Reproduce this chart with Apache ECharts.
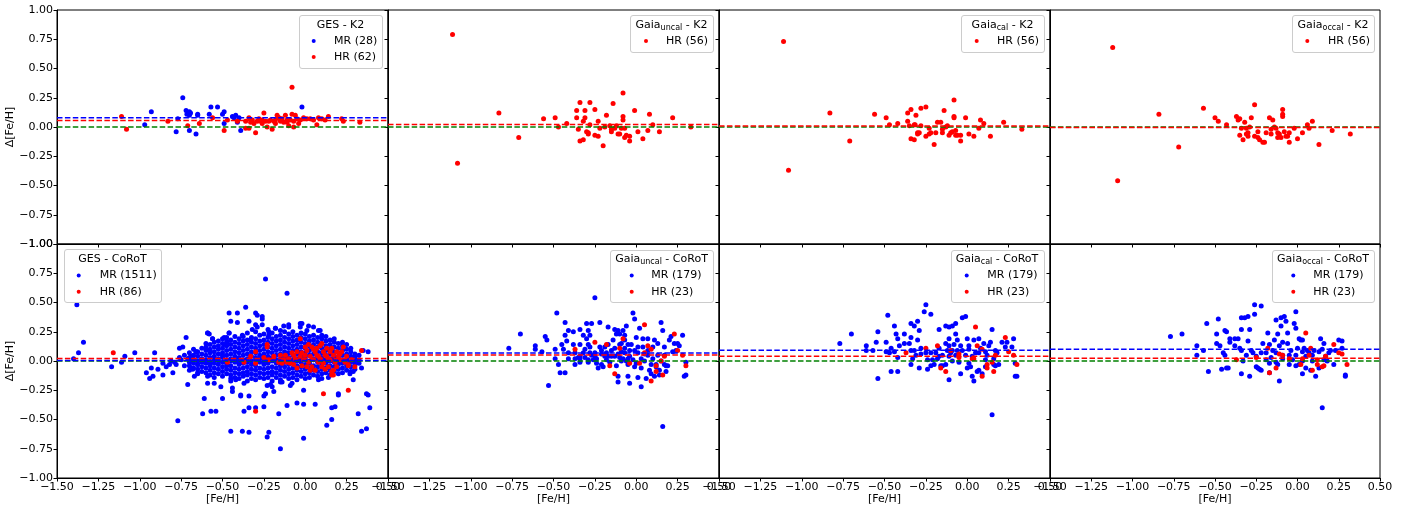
<!DOCTYPE html>
<html><head><meta charset="utf-8">
<script src="https://cdn.jsdelivr.net/npm/echarts@6/dist/echarts.min.js"></script>
<style>html,body{margin:0;padding:0;background:#fff}#c{width:1418px;height:506px}</style>
</head><body><div id="c"></div>
<script>
// ---------------- DATA ----------------
const xTicks = [-1.5, -1.25, -1.0, -0.75, -0.5, -0.25, 0.0, 0.25, 0.5];
const yTicks = [-1.0, -0.75, -0.5, -0.25, 0.0, 0.25, 0.5, 0.75, 1.0];

const panelTitles = [
  {main:'GES', sub:'', tail:' - K2'},
  {main:'Gaia', sub:'uncal', tail:' - K2'},
  {main:'Gaia', sub:'cal', tail:' - K2'},
  {main:'Gaia', sub:'occal', tail:' - K2'},
  {main:'GES', sub:'', tail:' - CoRoT'},
  {main:'Gaia', sub:'uncal', tail:' - CoRoT'},
  {main:'Gaia', sub:'cal', tail:' - CoRoT'},
  {main:'Gaia', sub:'occal', tail:' - CoRoT'}
];
const mrLabels = ['MR (28)', null, null, null, 'MR (1511)', 'MR (179)', 'MR (179)', 'MR (179)'];
const hrLabels = ['HR (62)', 'HR (56)', 'HR (56)', 'HR (56)', 'HR (86)', 'HR (23)', 'HR (23)', 'HR (23)'];

// mean offset lines (dashed)
const meanMR = [0.08, null, null, null, 0.005, 0.068, 0.091, 0.10];
const meanHR = [0.055, 0.022, 0.008, -0.005, 0.022, 0.051, 0.04, 0.023];
const zeroLine = [0, 0, 0, 0, 0, 0, 0, 0];

// ---- GES - K2 ----
const gesK2MR = [[-0.97,0.02],[-0.93,0.13],[-0.78,-0.04],[-0.77,0.07],[-0.74,0.25],[-0.72,0.14],[-0.715,0.11],[-0.70,0.13],[-0.693,0.12],[-0.70,0.10],[-0.70,-0.03],[-0.66,-0.06],[-0.65,0.11],[-0.65,0.10],[-0.58,0.11],[-0.57,0.17],[-0.53,0.17],[-0.50,0.11],[-0.49,0.13],[-0.49,0.03],[-0.43,0.08],[-0.42,0.10],[-0.41,0.04],[-0.40,0.08],[-0.39,-0.03],[-0.16,0.08],[-0.02,0.17],[-0.44,0.09]];
const gesK2HR = [[-1.11,0.09],[-1.08,-0.02],[-0.83,0.05],[-0.71,0.01],[-0.64,0.03],[-0.56,0.08],[-0.49,-0.03],[-0.47,0.06],[-0.41,0.05],[-0.36,0.05],[-0.36,-0.01],[-0.34,-0.01],[-0.34,0.08],[-0.32,0.06],[-0.31,0.03],[-0.30,-0.05],[-0.29,0.05],[-0.28,0.07],[-0.27,0.05],[-0.26,0.06],[-0.25,0.12],[-0.24,0.05],[-0.23,0.00],[-0.22,0.05],[-0.20,-0.02],[-0.19,0.05],[-0.18,0.03],[-0.17,0.10],[-0.16,0.08],[-0.15,0.05],[-0.14,0.07],[-0.13,0.04],[-0.12,0.10],[-0.11,0.06],[-0.10,0.01],[-0.09,0.06],[-0.08,0.34],[-0.08,0.11],[-0.07,0.00],[-0.07,0.05],[-0.06,0.10],[-0.05,0.07],[-0.04,0.03],[-0.01,0.08],[0.01,0.07],[0.05,0.06],[0.07,0.02],[0.08,0.08],[0.10,0.07],[0.14,0.09],[0.22,0.07],[0.23,0.05],[0.33,0.04],[-0.33,0.04],[-0.26,0.03],[-0.21,0.06],[-0.15,0.07],[-0.11,0.04],[-0.03,0.06],[0.03,0.07],[0.12,0.06],[-0.18,0.06]];

// ---- Gaia uncal / cal / occal - K2 ----
const uncalK2HR = [[-1.11,0.79],[-1.08,-0.31],[-0.83,0.12],[-0.71,-0.09],[-0.56,0.07],[-0.49,0.08],[-0.47,0.00],[-0.42,0.03],[-0.36,0.14],[-0.36,0.08],[-0.34,0.21],[-0.34,-0.12],[-0.35,-0.02],[-0.32,0.05],[-0.32,-0.11],[-0.31,0.14],[-0.31,0.08],[-0.30,-0.04],[-0.29,-0.05],[-0.29,-0.06],[-0.28,0.21],[-0.28,0.02],[-0.25,0.15],[-0.25,-0.07],[-0.23,0.05],[-0.23,-0.08],[-0.22,-0.01],[-0.20,-0.16],[-0.19,0.00],[-0.18,0.10],[-0.16,0.01],[-0.15,-0.02],[-0.15,-0.04],[-0.14,0.20],[-0.13,-0.01],[-0.12,0.01],[-0.11,-0.06],[-0.10,-0.06],[-0.09,-0.01],[-0.08,0.29],[-0.08,0.09],[-0.08,0.06],[-0.07,-0.01],[-0.07,-0.09],[-0.06,-0.07],[-0.04,-0.08],[-0.04,-0.12],[-0.01,0.14],[0.01,-0.04],[0.04,-0.10],[0.07,-0.03],[0.08,0.11],[0.10,0.02],[0.14,-0.04],[0.22,0.08],[0.33,0.00]];
const calK2HR = [[-1.11,0.73],[-1.08,-0.37],[-0.83,0.12],[-0.71,-0.12],[-0.56,0.11],[-0.49,0.08],[-0.47,0.02],[-0.42,0.03],[-0.36,0.12],[-0.36,0.05],[-0.34,0.15],[-0.34,-0.10],[-0.35,0.01],[-0.32,0.02],[-0.32,-0.11],[-0.31,0.10],[-0.315,0.02],[-0.30,-0.05],[-0.29,-0.05],[-0.30,-0.06],[-0.28,0.16],[-0.28,0.01],[-0.25,0.17],[-0.25,-0.08],[-0.23,-0.01],[-0.23,-0.06],[-0.22,-0.05],[-0.20,-0.15],[-0.19,-0.05],[-0.18,0.04],[-0.16,0.04],[-0.15,-0.02],[-0.15,-0.05],[-0.14,0.14],[-0.13,0.00],[-0.12,0.01],[-0.11,-0.07],[-0.10,-0.05],[-0.09,-0.04],[-0.08,0.23],[-0.08,0.09],[-0.08,0.08],[-0.07,-0.07],[-0.07,-0.03],[-0.06,-0.07],[-0.04,-0.07],[-0.04,-0.12],[-0.01,0.08],[0.01,-0.06],[0.04,-0.08],[0.07,-0.01],[0.08,0.06],[0.10,0.03],[0.14,-0.08],[0.22,0.04],[0.33,-0.02]];
const occalK2HR = [[-1.12,0.68],[-1.09,-0.46],[-0.84,0.11],[-0.72,-0.17],[-0.57,0.16],[-0.50,0.08],[-0.48,0.05],[-0.43,0.02],[-0.37,0.09],[-0.36,0.06],[-0.35,0.07],[-0.35,-0.07],[-0.34,-0.01],[-0.33,-0.11],[-0.32,0.04],[-0.31,-0.06],[-0.31,-0.01],[-0.30,-0.05],[-0.30,-0.08],[-0.29,0.00],[-0.28,0.08],[-0.26,0.19],[-0.26,-0.08],[-0.24,-0.04],[-0.24,-0.09],[-0.23,-0.11],[-0.21,-0.13],[-0.20,-0.13],[-0.19,-0.05],[-0.17,0.08],[-0.16,-0.02],[-0.16,-0.06],[-0.15,0.06],[-0.14,0.00],[-0.13,-0.01],[-0.12,-0.09],[-0.11,-0.06],[-0.10,-0.09],[-0.09,0.15],[-0.09,0.11],[-0.09,0.09],[-0.08,-0.04],[-0.07,-0.08],[-0.06,-0.08],[-0.05,-0.05],[-0.05,-0.13],[-0.02,-0.01],[0.00,-0.10],[0.03,-0.05],[0.06,0.02],[0.07,-0.01],[0.09,0.05],[0.13,-0.15],[0.21,-0.03],[0.32,-0.06],[-0.12,-0.05]];

// ---- GES - CoRoT ----
const gesCorotMRsparse = [[-1.38,0.48],[-1.37,0.07],[-1.34,0.16],[-1.40,0.02],[-1.17,-0.05],[-1.11,-0.01],[-1.09,0.04],[-1.03,0.07],[-0.96,-0.10],[-0.94,-0.15],[-0.93,-0.06],[-0.92,-0.13],[-0.91,0.07],[-0.89,-0.07],[-0.86,-0.12],[-0.84,-0.05],[-0.82,-0.03],[-0.80,-0.10],[-0.79,-0.01],[-0.77,-0.51],[-0.76,0.11],[-0.74,0.12],[-0.72,0.20],[-0.71,-0.20],[-0.70,-0.01],[-0.68,-0.07],[-0.66,0.08],[-0.65,-0.10],[-0.62,-0.45],[-0.61,-0.32],[-0.59,-0.13],[-0.59,0.24],[-0.58,0.23],[-0.57,-0.43],[-0.56,0.19],[-0.55,-0.19],[-0.54,-0.43],[-0.51,-0.22],[-0.50,-0.32],[-0.49,0.20],[-0.47,0.15],[-0.46,0.24],[-0.46,0.41],[-0.45,-0.60],[-0.45,0.34],[-0.44,-0.26],[-0.42,-0.16],[-0.41,0.41],[-0.41,0.33],[-0.39,-0.29],[-0.38,-0.60],[-0.37,-0.43],[-0.36,0.46],[-0.34,-0.30],[-0.34,-0.40],[-0.34,-0.61],[-0.34,0.34],[-0.32,0.27],[-0.30,0.41],[-0.30,-0.40],[-0.29,0.29],[-0.26,0.38],[-0.25,-0.39],[-0.25,-0.30],[-0.24,0.70],[-0.24,-0.28],[-0.23,-0.65],[-0.22,-0.61],[-0.21,-0.20],[-0.19,-0.26],[-0.18,0.28],[-0.16,-0.45],[-0.15,-0.75],[-0.14,-0.18],[-0.11,-0.38],[-0.11,0.58],[-0.09,-0.21],[-0.05,-0.36],[-0.02,0.32],[-0.01,-0.66],[-0.01,-0.37],[0.02,0.30],[0.06,-0.37],[0.09,0.26],[0.13,-0.55],[0.16,-0.40],[0.16,-0.50],[0.18,-0.39],[0.20,-0.28],[0.27,-0.11],[0.32,-0.45],[0.34,-0.60],[0.37,-0.58],[0.38,-0.29],[0.38,0.08],[0.39,-0.40],
  [-0.86,-0.02],[-0.81,0.00],[-0.78,-0.03],[-0.75,0.01],[-0.73,-0.04],[-0.71,0.02],[-0.68,0.00],[-0.65,-0.03],[-0.63,0.01],[-0.76,0.03],[-0.73,0.05],[-0.69,0.04],
  [-0.29,0.39],[-0.30,0.31],[-0.26,0.36],[-0.26,0.31],[-0.22,0.25],[-0.22,0.22],[-0.18,0.28],[-0.15,0.26],[-0.13,0.30],[-0.10,0.31],[-0.10,0.29],[-0.03,0.32],[-0.03,0.29],[0.01,0.26],[0.05,0.29],[0.08,0.26],[0.10,0.22],[-0.59,0.24],[-0.60,0.15],[-0.56,0.19],[-0.50,0.19],[-0.46,0.24],[-0.38,0.22],[-0.33,0.18],[-0.49,0.14],[-0.66,0.08],[-0.68,0.04],[-0.69,-0.06],[-0.67,-0.13],[-0.59,-0.19],[-0.45,-0.17],[-0.44,-0.23],[-0.39,-0.30],[-0.37,-0.19],[-0.23,-0.21],[-0.20,-0.22],[-0.15,-0.18],[-0.08,-0.19],[-0.01,-0.25],[0.08,-0.16],[0.14,-0.14],[0.20,-0.29],[0.29,-0.09],[0.29,-0.16],[0.34,-0.06],[0.37,-0.28],[0.35,0.09],[-0.61,-0.01]];
const gesCorotMRcols = [
  [-0.700,[0.03,-0.04,0.07,-0.08,0.00]],
  [-0.675,[0.01,-0.06,0.05,-0.02,0.10]],
  [-0.650,[0.04,-0.03,0.08,-0.07,0.00,-0.11]],
  [-0.625,[0.02,-0.05,0.06,-0.09,0.11,-0.01]],
  [-0.600,[0.05,-0.02,0.09,-0.06,0.01,-0.10,0.12]],
  [-0.575,[0.07,-0.04,0.03,-0.08,0.10,-0.01,0.14,-0.12]],
  [-0.550,[0.04,-0.02,0.08,-0.06,0.12,0.01,-0.10,0.16,-0.14]],
  [-0.525,[0.06,-0.03,0.10,0.02,-0.07,0.13,-0.11,0.17,0.00]],
  [-0.500,[0.03,-0.05,0.07,-0.01,0.11,-0.09,0.15,-0.13,0.05]],
  [-0.475,[0.05,-0.02,0.09,0.01,-0.07,0.13,-0.11,0.17,-0.04,0.20]],
  [-0.450,[0.02,-0.04,0.06,-0.08,0.10,0.14,-0.12,0.18,0.00,-0.15]],
  [-0.425,[0.04,-0.01,0.08,-0.06,0.12,-0.10,0.16,0.01,-0.14,0.21]],
  [-0.400,[0.03,-0.03,0.07,-0.07,0.11,-0.11,0.15,0.19,0.00,-0.15]],
  [-0.375,[0.05,-0.02,0.09,-0.06,0.13,-0.10,0.17,0.01,-0.13,0.21]],
  [-0.350,[0.02,-0.05,0.06,-0.09,0.10,0.14,-0.12,0.18,-0.01,0.24,-0.17]],
  [-0.325,[0.04,-0.03,0.08,-0.07,0.12,-0.11,0.16,0.00,0.20,-0.15]],
  [-0.300,[0.03,-0.04,0.07,-0.08,0.11,-0.12,0.15,0.01,0.19,-0.16,0.25]],
  [-0.275,[0.05,-0.01,0.09,-0.06,0.13,-0.10,0.17,0.02,0.22,-0.14]],
  [-0.250,[0.02,-0.03,0.06,-0.07,0.10,-0.11,0.14,0.18,0.00,-0.15,0.23]],
  [-0.225,[0.04,-0.02,0.08,-0.06,0.12,-0.10,0.16,0.01,0.20,-0.14,0.27]],
  [-0.200,[0.03,-0.05,0.07,-0.09,0.11,-0.12,0.15,0.00,0.19,-0.17,0.24]],
  [-0.175,[0.05,-0.02,0.09,-0.06,0.13,-0.10,0.17,0.01,0.21,-0.14]],
  [-0.150,[0.02,-0.04,0.06,-0.08,0.10,-0.12,0.14,0.18,0.00,0.22,-0.16]],
  [-0.125,[0.04,-0.01,0.08,-0.05,0.12,-0.09,0.16,0.02,0.20,-0.13,0.25]],
  [-0.100,[0.03,-0.03,0.07,-0.07,0.11,-0.11,0.15,0.00,0.19,-0.15,0.23]],
  [-0.075,[0.05,-0.02,0.09,-0.06,0.13,-0.10,0.17,0.01,0.21,-0.14,0.25]],
  [-0.050,[0.02,-0.04,0.06,-0.08,0.10,-0.12,0.14,0.18,0.00,0.22,-0.16]],
  [-0.025,[0.04,-0.01,0.08,-0.05,0.12,-0.09,0.16,0.02,0.20,-0.13,0.24]],
  [0.000,[0.03,-0.03,0.07,-0.07,0.11,-0.11,0.15,0.01,0.19,-0.15,0.23]],
  [0.025,[0.05,-0.02,0.09,-0.06,0.13,-0.10,0.17,0.00,0.21,-0.14]],
  [0.050,[0.02,-0.04,0.06,-0.08,0.10,-0.12,0.14,0.18,0.01,0.22]],
  [0.075,[0.04,-0.01,0.08,-0.05,0.12,-0.09,0.16,0.02,0.20,-0.13]],
  [0.100,[0.03,-0.03,0.07,-0.07,0.11,-0.11,0.15,0.00,0.19,-0.15]],
  [0.125,[0.05,-0.02,0.09,-0.06,0.13,-0.10,0.17,0.01,0.21]],
  [0.150,[0.02,-0.04,0.06,-0.08,0.10,-0.12,0.14,0.18,0.00]],
  [0.175,[0.04,-0.01,0.08,-0.05,0.12,-0.09,0.16,0.02,0.19]],
  [0.200,[0.03,-0.03,0.07,-0.07,0.11,-0.11,0.15,0.00]],
  [0.225,[0.05,-0.02,0.09,-0.06,0.13,-0.10,0.01,0.16]],
  [0.250,[0.02,-0.04,0.06,-0.08,0.10,0.00,0.14]],
  [0.275,[0.04,-0.01,0.08,-0.05,0.11,-0.09]],
  [0.300,[0.03,-0.03,0.06,0.00,-0.07]],
  [0.325,[0.01,0.05,-0.02]]
];
const gesCorotHR = [[-1.16,0.07],[-0.03,0.19],[-0.23,0.14],[-0.23,0.12],[-0.30,0.08],[-0.33,0.04],[-0.47,-0.01],[-0.30,-0.02],[-0.22,0.01],[-0.37,-0.01],[-0.15,0.05],[-0.13,0.01],[-0.11,-0.01],[-0.09,-0.02],[-0.08,0.07],[-0.07,0.05],[-0.06,0.02],[-0.05,0.08],[-0.03,0.04],[-0.01,0.01],[0.00,0.05],[0.01,0.09],[0.02,0.14],[0.03,0.04],[0.04,0.12],[0.05,0.01],[0.06,0.08],[0.07,0.11],[0.07,0.05],[0.09,0.13],[0.09,0.02],[0.11,0.08],[0.11,-0.02],[0.12,-0.07],[0.13,0.11],[0.13,0.04],[0.15,0.08],[0.15,0.01],[0.16,0.11],[0.17,-0.12],[0.17,0.05],[0.19,0.08],[0.20,0.04],[0.21,0.01],[0.22,0.08],[0.23,0.12],[0.26,-0.25],[0.26,-0.03],[0.28,0.01],[0.30,-0.05],[0.34,0.09],[0.11,-0.28],[-0.30,-0.43],[-0.19,0.04],[-0.16,-0.01],[-0.14,-0.02],[-0.12,0.05],[-0.10,0.02],[-0.02,-0.04],[0.02,-0.01],[0.04,-0.05],[0.08,-0.01],[0.10,-0.05],[0.14,-0.05],[0.18,-0.01],[0.19,-0.05],[0.24,-0.01],[0.25,0.04],[0.17,-0.08],[0.16,-0.09],[0.06,-0.08],[0.03,-0.08],[0.01,-0.05],[-0.05,-0.06],[-0.07,-0.03],[0.00,0.12],[0.10,0.15],[0.12,0.05],[0.08,0.04],[0.16,-0.12],[0.26,-0.04],[0.05,0.10],[-0.02,0.07],[0.14,0.02],[0.21,0.06],[-0.25,0.03]];

// ---- Gaia - CoRoT ----
const uncalCorotMR = [[-0.77,0.11],[-0.70,0.23],[-0.61,0.13],[-0.61,0.10],[-0.57,0.08],[-0.55,0.21],[-0.54,0.18],[-0.53,-0.21],[-0.49,0.10],[-0.49,0.02],[-0.48,0.41],[-0.47,-0.03],[-0.46,-0.10],[-0.45,0.14],[-0.44,0.10],[-0.43,0.33],[-0.43,0.22],[-0.43,-0.10],[-0.42,0.17],[-0.41,0.07],[-0.41,0.02],[-0.41,0.26],[-0.38,0.25],[-0.38,0.14],[-0.37,-0.03],[-0.37,0.07],[-0.35,0.03],[-0.34,0.02],[-0.34,0.27],[-0.34,0.14],[-0.34,-0.01],[-0.34,0.04],[-0.32,0.07],[-0.32,0.22],[-0.31,0.10],[-0.31,0.03],[-0.30,0.19],[-0.30,0.32],[-0.29,0.14],[-0.29,0.26],[-0.29,-0.01],[-0.28,0.07],[-0.28,0.22],[-0.28,0.12],[-0.27,0.05],[-0.27,0.32],[-0.26,0.01],[-0.25,0.54],[-0.25,0.07],[-0.24,0.02],[-0.24,-0.02],[-0.23,-0.06],[-0.22,0.12],[-0.22,0.33],[-0.21,0.06],[-0.21,-0.03],[-0.20,-0.05],[-0.18,0.07],[-0.18,0.01],[-0.17,0.29],[-0.17,0.14],[-0.17,0.04],[-0.16,-0.01],[-0.15,0.09],[-0.15,0.04],[-0.14,0.18],[-0.13,0.11],[-0.13,0.27],[-0.12,-0.04],[-0.12,0.23],[-0.11,0.06],[-0.11,0.26],[-0.11,-0.13],[-0.11,-0.18],[-0.10,0.03],[-0.10,0.23],[-0.10,0.14],[-0.09,0.00],[-0.09,0.08],[-0.08,0.26],[-0.08,0.02],[-0.07,0.22],[-0.07,0.11],[-0.07,0.18],[-0.06,0.00],[-0.06,0.30],[-0.05,-0.03],[-0.05,0.14],[-0.05,-0.13],[-0.04,0.09],[-0.04,-0.19],[-0.04,0.04],[-0.03,0.14],[-0.02,0.41],[-0.02,0.01],[-0.01,0.09],[-0.01,0.36],[0.00,-0.02],[0.00,0.20],[0.01,-0.14],[0.01,0.12],[0.01,0.07],[0.02,0.28],[0.03,-0.06],[0.03,-0.22],[0.04,0.19],[0.04,0.12],[0.05,0.06],[0.05,0.00],[0.06,-0.15],[0.07,0.19],[0.07,0.05],[0.08,-0.08],[0.09,-0.03],[0.09,-0.11],[0.10,0.12],[0.10,0.02],[0.11,0.18],[0.11,-0.13],[0.12,-0.05],[0.12,-0.03],[0.13,0.15],[0.14,-0.08],[0.14,-0.12],[0.15,0.00],[0.15,0.33],[0.16,-0.56],[0.16,0.26],[0.17,-0.03],[0.17,0.12],[0.18,-0.09],[0.18,-0.04],[0.19,-0.04],[0.20,0.18],[0.21,0.21],[0.22,0.08],[0.23,0.15],[0.24,0.09],[0.25,0.15],[0.26,0.13],[0.28,0.22],[0.29,-0.13],[0.30,-0.12],[0.30,-0.01],[-0.21,0.09],[-0.19,0.04],[-0.09,0.15],[0.03,0.02],[-0.01,-0.05],[-0.05,0.02],[-0.13,0.04],[-0.25,0.04],[-0.29,0.01],[-0.37,0.02],[0.07,0.09],[0.13,0.05],[0.17,0.05],[-0.19,0.12],[-0.07,0.07]];
const uncalCorotHR = [[-0.37,0.10],[-0.25,0.16],[-0.18,0.14],[-0.16,-0.04],[-0.13,-0.11],[-0.10,0.11],[-0.08,0.19],[-0.04,-0.02],[0.02,-0.02],[0.05,0.31],[0.05,0.07],[0.07,0.13],[0.09,0.10],[0.12,-0.04],[0.12,-0.09],[0.09,-0.17],[0.15,0.00],[0.16,-0.12],[0.17,0.04],[0.23,0.23],[0.25,0.09],[0.28,0.05],[0.30,-0.04]];
const calCorotMR = [[-0.77,0.15],[-0.70,0.23],[-0.61,0.13],[-0.61,0.09],[-0.57,0.09],[-0.55,0.16],[-0.54,0.25],[-0.54,-0.15],[-0.49,0.08],[-0.49,0.16],[-0.48,0.39],[-0.47,0.07],[-0.46,-0.09],[-0.46,0.11],[-0.44,0.08],[-0.44,0.30],[-0.43,0.23],[-0.42,-0.09],[-0.42,0.19],[-0.41,0.13],[-0.42,0.03],[-0.38,0.23],[-0.38,0.15],[-0.35,0.15],[-0.34,0.32],[-0.34,0.20],[-0.34,-0.03],[-0.34,0.09],[-0.32,0.09],[-0.32,0.30],[-0.31,0.05],[-0.30,0.18],[-0.30,0.34],[-0.29,0.26],[-0.29,-0.06],[-0.28,0.11],[-0.28,0.06],[-0.26,0.42],[-0.25,0.48],[-0.24,0.01],[-0.24,-0.07],[-0.22,0.40],[-0.22,0.07],[-0.22,-0.04],[-0.20,-0.03],[-0.19,0.07],[-0.18,0.02],[-0.17,0.27],[-0.17,0.11],[-0.16,-0.04],[-0.15,0.05],[-0.15,-0.04],[-0.13,0.15],[-0.13,0.30],[-0.12,0.09],[-0.11,0.19],[-0.11,0.13],[-0.11,-0.16],[-0.11,0.29],[-0.10,0.07],[-0.09,0.30],[-0.09,0.00],[-0.08,0.14],[-0.07,0.32],[-0.07,0.23],[-0.06,0.18],[-0.06,0.09],[-0.05,-0.01],[-0.04,-0.11],[-0.04,0.13],[-0.03,0.37],[-0.01,0.38],[-0.01,0.05],[0.00,-0.06],[0.00,0.19],[0.01,0.10],[0.01,0.13],[0.02,-0.05],[0.03,-0.13],[0.04,-0.17],[0.04,0.18],[0.05,0.07],[0.06,-0.09],[0.07,0.19],[0.07,-0.08],[0.08,0.11],[0.09,-0.11],[0.10,0.15],[0.11,-0.05],[0.12,0.05],[0.13,0.13],[0.14,0.16],[0.15,0.27],[0.15,-0.46],[0.16,0.02],[0.16,-0.03],[0.17,-0.04],[0.18,0.07],[0.19,-0.03],[0.21,0.16],[0.23,0.12],[0.24,0.16],[0.27,0.12],[0.28,0.19],[0.29,-0.02],[0.29,-0.13],[0.30,-0.13],[-0.17,0.04],[-0.11,0.04],[-0.07,0.05],[0.03,0.04],[0.07,0.07],[-0.21,0.01],[-0.25,0.07],[-0.09,0.09],[-0.03,0.09],[0.11,0.08],[0.17,0.09],[-0.33,0.02],[-0.13,-0.03],[0.01,-0.02],[0.11,0.01]];
const calCorotHR = [[-0.37,0.07],[-0.25,0.11],[-0.18,0.13],[-0.16,-0.06],[-0.13,-0.09],[-0.10,0.09],[-0.05,0.06],[-0.05,0.03],[0.03,0.02],[0.04,0.02],[0.05,0.29],[0.06,0.13],[0.09,0.10],[0.09,-0.13],[0.12,-0.03],[0.12,-0.06],[0.15,-0.01],[0.16,-0.09],[0.17,0.05],[0.23,0.20],[0.25,0.08],[0.28,0.05],[0.30,-0.03]];
const occalCorotMR = [[-0.77,0.21],[-0.70,0.23],[-0.61,0.13],[-0.61,0.05],[-0.57,0.09],[-0.55,0.32],[-0.54,-0.09],[-0.49,0.15],[-0.49,0.23],[-0.48,0.36],[-0.47,0.13],[-0.46,-0.07],[-0.45,0.07],[-0.44,0.05],[-0.44,0.26],[-0.43,0.25],[-0.43,-0.06],[-0.42,-0.06],[-0.41,0.16],[-0.41,0.19],[-0.38,0.19],[-0.38,0.13],[-0.36,0.19],[-0.35,0.11],[-0.34,0.37],[-0.34,0.27],[-0.34,-0.11],[-0.34,0.09],[-0.33,0.00],[-0.32,0.37],[-0.31,0.05],[-0.30,0.17],[-0.30,0.38],[-0.29,0.27],[-0.29,-0.13],[-0.28,0.09],[-0.27,0.07],[-0.26,0.48],[-0.26,0.40],[-0.25,-0.05],[-0.24,-0.06],[-0.23,-0.07],[-0.22,0.47],[-0.22,0.07],[-0.22,-0.08],[-0.21,0.15],[-0.19,0.07],[-0.18,0.24],[-0.17,0.14],[-0.17,-0.10],[-0.16,0.03],[-0.15,0.09],[-0.14,0.18],[-0.13,-0.01],[-0.13,0.35],[-0.12,0.23],[-0.12,-0.03],[-0.11,0.13],[-0.11,-0.17],[-0.10,0.30],[-0.10,0.37],[-0.09,0.16],[-0.09,0.05],[-0.08,0.38],[-0.07,0.34],[-0.06,0.24],[-0.06,0.15],[-0.05,-0.03],[-0.04,0.09],[-0.02,0.32],[-0.01,0.42],[-0.01,-0.04],[-0.01,0.28],[0.00,0.11],[0.01,0.19],[0.01,-0.03],[0.02,0.18],[0.03,0.00],[0.03,0.18],[0.03,-0.11],[0.04,0.11],[0.05,-0.06],[0.05,0.04],[0.06,0.09],[0.07,0.07],[0.08,-0.08],[0.09,0.00],[0.10,0.09],[0.11,-0.13],[0.13,-0.06],[0.14,0.19],[0.15,0.10],[0.15,-0.40],[0.16,0.15],[0.16,0.01],[0.17,0.04],[0.18,0.00],[0.19,0.07],[0.20,0.09],[0.22,-0.03],[0.23,0.09],[0.25,0.18],[0.27,0.11],[0.27,0.17],[0.29,-0.12],[0.29,-0.13],[-0.19,0.01],[-0.09,0.02],[-0.01,0.05],[-0.05,0.05],[0.03,0.08],[-0.13,0.07],[-0.25,0.04],[0.09,0.05],[0.13,0.08],[-0.03,0.01],[-0.17,-0.02]];
const occalCorotHR = [[-0.37,0.01],[-0.25,0.03],[-0.18,0.11],[-0.17,-0.10],[-0.13,-0.06],[-0.11,0.06],[-0.09,0.05],[-0.05,0.02],[0.02,-0.03],[0.03,0.02],[0.05,0.24],[0.07,0.05],[0.08,0.11],[0.09,-0.08],[0.12,-0.03],[0.12,0.01],[0.15,-0.05],[0.16,-0.04],[0.17,0.04],[0.22,0.14],[0.25,0.07],[0.27,0.06],[0.30,-0.03]];

// ---------------- BUILD ----------------
const gesCorotMR = gesCorotMRsparse.concat(gesCorotMRcols.flatMap(([x, ys]) => ys.map(y => [x, y])));
const mrSets = [gesK2MR, null, null, null, gesCorotMR, uncalCorotMR, calCorotMR, occalCorotMR];
const hrSets = [gesK2HR, uncalK2HR, calK2HR, occalK2HR, gesCorotHR, uncalCorotHR, calCorotHR, occalCorotHR];

const BLUE = '#0000ff', RED = '#ff0000', GREEN = '#008000';
const FONT = 'DejaVu Sans';
const colLeft = [57, 388, 719, 1050], colW = [331, 331, 331, 330];
const rowTop = [10, 244], rowH = 234;
const xMin = xTicks[0], xMax = xTicks[xTicks.length - 1];
const fmt = v => (v < -1e-9 ? '\u2212' : '') + Math.abs(v).toFixed(2);

const grid = [], xAxis = [], yAxis = [], series = [];
for (let i = 0; i < 8; i++) {
  const r = Math.floor(i / 4), c = i % 4;
  grid.push({left: colLeft[c], top: rowTop[r], width: colW[c], height: rowH,
    show: true, borderColor: '#000', borderWidth: 1, backgroundColor: 'transparent'});
  xAxis.push({gridIndex: i, type: 'value', min: xMin, max: xMax, interval: xTicks[1] - xTicks[0],
    axisLine: {onZero: false, lineStyle: {color: '#000', width: 1}},
    axisTick: {length: 3.5, lineStyle: {color: '#000'}},
    splitLine: {show: false},
    axisLabel: {show: r === 1, formatter: fmt, color: '#000', fontFamily: FONT, fontSize: 11, margin: 4,
      showMinLabel: true, showMaxLabel: true, hideOverlap: false},
    name: r === 1 ? '[Fe/H]' : '', nameLocation: 'middle', nameGap: 15,
    nameTextStyle: {color: '#000', fontFamily: FONT, fontSize: 11}});
  yAxis.push({gridIndex: i, type: 'value', min: yTicks[0], max: yTicks[yTicks.length - 1], interval: yTicks[1] - yTicks[0],
    axisLine: {onZero: false, lineStyle: {color: '#000', width: 1}},
    axisTick: {length: 3.5, lineStyle: {color: '#000'}},
    splitLine: {show: false},
    axisLabel: {show: c === 0, formatter: fmt, color: '#000', fontFamily: FONT, fontSize: 11, margin: 4,
      showMinLabel: true, showMaxLabel: true},
    name: c === 0 ? '\u0394[Fe/H]' : '', nameLocation: 'middle', nameGap: 40, nameRotate: 90,
    nameTextStyle: {color: '#000', fontFamily: FONT, fontSize: 11}});

  if (mrSets[i]) series.push({type: 'scatter', xAxisIndex: i, yAxisIndex: i, data: mrSets[i],
    symbol: 'circle', symbolSize: 5, itemStyle: {color: BLUE, opacity: 1}, z: 2, silent: true});
  series.push({type: 'scatter', xAxisIndex: i, yAxisIndex: i, data: hrSets[i],
    symbol: 'circle', symbolSize: 5, itemStyle: {color: RED, opacity: 1}, z: 3, silent: true});
  const lines = [[zeroLine[i], GREEN], [meanMR[i], BLUE], [meanHR[i], RED]];
  lines.forEach(([v, col], k) => {
    if (v === null) return;
    series.push({type: 'line', xAxisIndex: i, yAxisIndex: i, data: [[xMin, v], [xMax, v]],
      showSymbol: false, symbol: 'none', silent: true, z: 4 + k,
      lineStyle: {color: col, width: 1.5, type: [5.5, 2.4]}});
  });
}

// ---------------- LEGENDS (layout) ----------------
const legendLayout = [
  {box: [299, 15, 83, 53], tx: 340.5, ty: 25, mx: 313.7, lx: 334, ey: [41, 57]},
  {box: [630, 15, 83, 37], tx: 671.5, ty: 25, mx: 646, lx: 666, ey: [41]},
  {box: [961, 15, 83, 37], tx: 1002.5, ty: 25, mx: 976.7, lx: 997, ey: [41]},
  {box: [1292, 15, 82, 37], tx: 1333, ty: 25, mx: 1307.3, lx: 1328, ey: [41]},
  {box: [64, 249, 97, 53], tx: 112.5, ty: 259, mx: 78.7, lx: 99.7, ey: [275.5, 291.7]},
  {box: [610, 250, 103, 52], tx: 661.5, ty: 259, mx: 631.7, lx: 651.3, ey: [275.5, 291.7]},
  {box: [951, 250, 93, 52], tx: 997, ty: 259, mx: 966.7, lx: 987.3, ey: [275.5, 291.7]},
  {box: [1272, 250, 102, 52], tx: 1323, ty: 259, mx: 1293.3, lx: 1313.3, ey: [275.5, 291.7]}
];
const graphic = [];
legendLayout.forEach((L, i) => {
  const t = panelTitles[i];
  graphic.push({type: 'rect', z: 100, shape: {x: L.box[0] + 0.5, y: L.box[1] + 0.5, width: L.box[2], height: L.box[3], r: 2.5},
    style: {fill: 'rgba(255,255,255,0.8)', stroke: '#cccccc', lineWidth: 1}});
  const txt = t.sub ? '{n|' + t.main + '}{s|' + t.sub + '}{n|' + t.tail + '}' : '{n|' + t.main + t.tail + '}';
  graphic.push({type: 'text', z: 101, x: L.tx, y: L.ty,
    style: {text: txt, align: 'center', verticalAlign: 'middle', fill: '#000',
      rich: {n: {fontFamily: FONT, fontSize: 11, lineHeight: 14, verticalAlign: 'middle', fill: '#000'},
             s: {fontFamily: FONT, fontSize: 8, lineHeight: 8, verticalAlign: 'bottom', fill: '#000'}}}});
  const entries = [];
  if (mrLabels[i]) entries.push([mrLabels[i], BLUE]);
  entries.push([hrLabels[i], RED]);
  entries.forEach(([lab, col], k) => {
    graphic.push({type: 'circle', z: 101, shape: {cx: L.mx, cy: L.ey[k], r: 2}, style: {fill: col}});
    graphic.push({type: 'text', z: 101, x: L.lx, y: L.ey[k],
      style: {text: lab, align: 'left', verticalAlign: 'middle', fill: '#000', fontFamily: FONT, fontSize: 11}});
  });
});

const chart = echarts.init(document.getElementById('c'), null, {renderer: 'canvas'});
chart.setOption({animation: false, backgroundColor: '#fff', grid, xAxis, yAxis, series, graphic});
</script>
</body></html>
